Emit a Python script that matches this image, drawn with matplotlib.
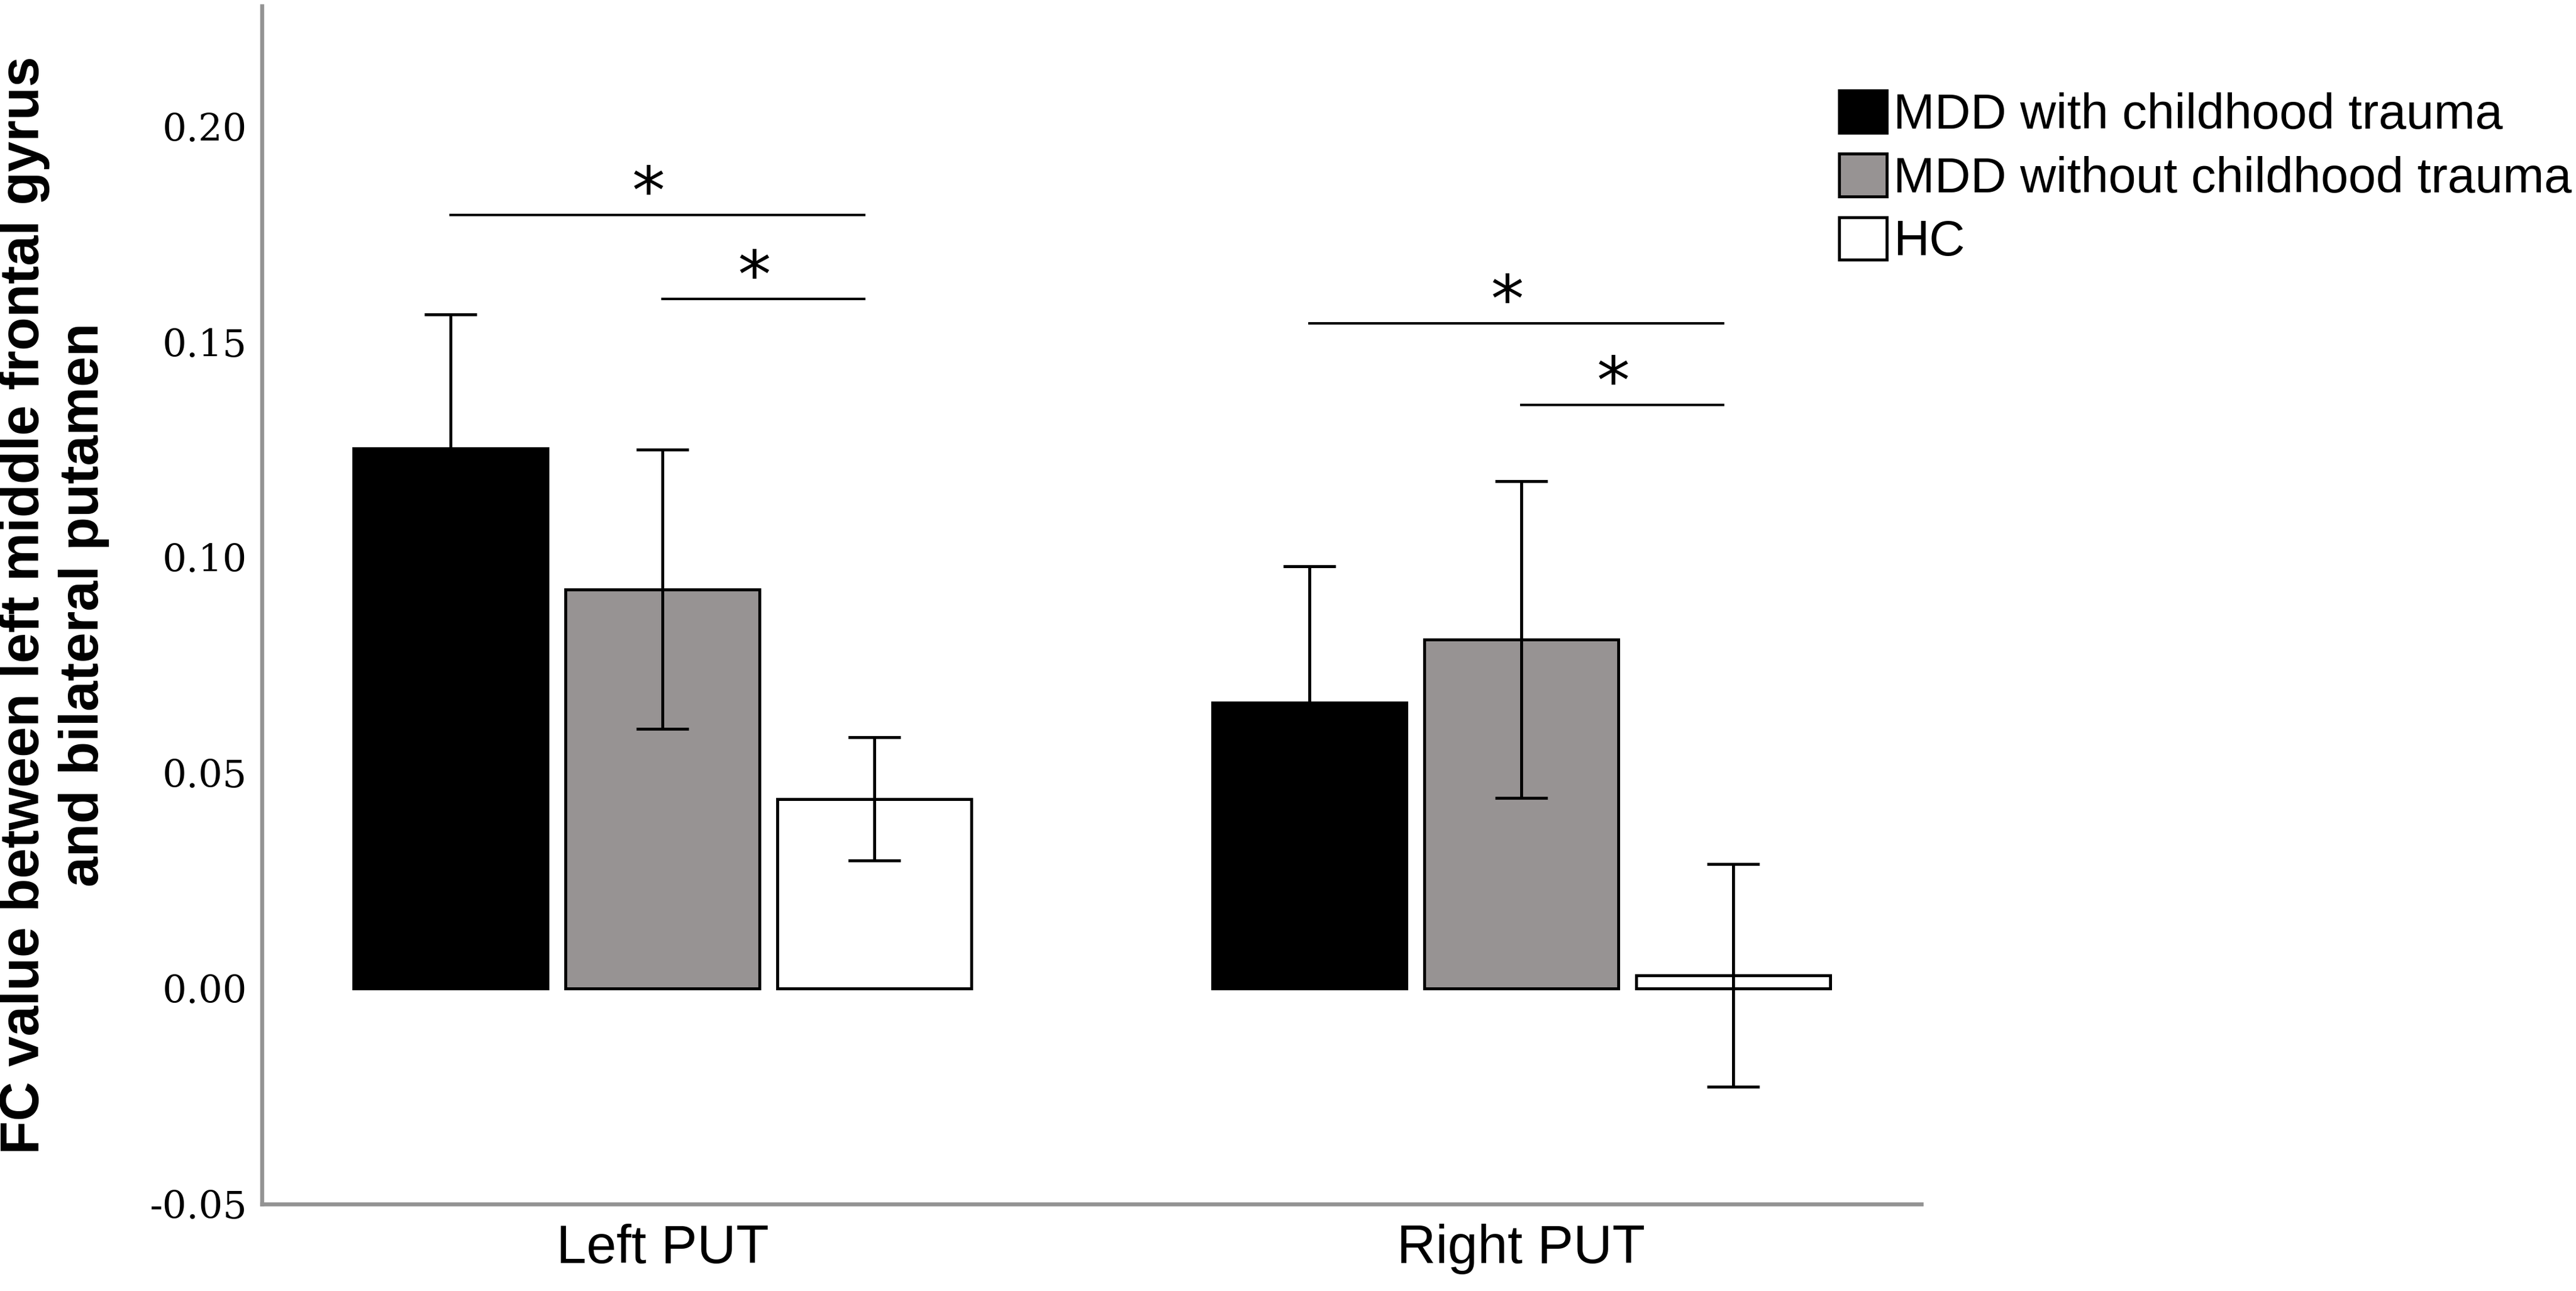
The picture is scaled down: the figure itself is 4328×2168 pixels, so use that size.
import numpy as np
import matplotlib
matplotlib.use("Agg")
import matplotlib.pyplot as plt

# regions of interest on the x axis
groups = ["Left PUT", "Right PUT"]
series = ["MDD with childhood trauma", "MDD without childhood trauma", "HC"]

# mean FC values per series (Left PUT, Right PUT)
mdd_ct = [0.1254, 0.0664]
mdd_nct = [0.0926, 0.0810]
hc = [0.0440, 0.0031]

# error bar half-lengths
err_ct = [0.0310, 0.0316]
err_nct = [0.0324, 0.0367]
err_hc = [0.0143, 0.0258]

# significance brackets: group, from series, to series, height
sig_group = [0, 0, 1, 1]
sig_from = [0, 1, 0, 1]
sig_to = [2, 2, 2, 2]
sig_y = [0.1795, 0.1600, 0.1543, 0.1354]

colors = ["#000000", "#979393", "#ffffff"]

fig = plt.figure(figsize=(10.82, 5.42), dpi=400)
ax = fig.add_axes([0.1017, 0.0673, 0.6441, 0.9281])

x = np.arange(len(groups))
offset = 0.2467
width = 0.226
means = [mdd_ct, mdd_nct, hc]
errs = [err_ct, err_nct, err_hc]

for i, (m, e, c, name) in enumerate(zip(means, errs, colors, series)):
    ax.bar(x + (i - 1) * offset, m, width, color=c, edgecolor="black",
           linewidth=0.9, label=name, zorder=2)
    ax.errorbar(x + (i - 1) * offset, m, yerr=e, fmt="none", ecolor="black",
                elinewidth=0.9, capsize=8, capthick=0.9, zorder=3)

for g, a, b, y in zip(sig_group, sig_from, sig_to, sig_y):
    x0 = g + (a - 1) * offset
    x1 = g + (b - 1) * offset - 0.012
    ax.plot([x0, x1], [y, y], color="black", linewidth=0.75, zorder=3)
    ax.text((x0 + x1) / 2 - 0.01, y + 0.0003, "*", ha="center", va="baseline",
            fontsize=20, family="DejaVu Sans")

ax.set_xlim(-0.4664, 1.4657)
ax.set_ylim(-0.05, 0.228)
ax.set_yticks([-0.05, 0.0, 0.05, 0.10, 0.15, 0.20])
ax.set_yticklabels(["-0.05", "0.00", "0.05", "0.10", "0.15", "0.20"],
                   family="DejaVu Serif", fontsize=11.5)
ax.set_xticks(x)
ax.set_xticklabels(groups, family="Liberation Sans", fontsize=16.3)
ax.tick_params(axis="y", length=0, pad=4.5)
ax.tick_params(axis="x", length=0, pad=6)

for s in ["top", "right"]:
    ax.spines[s].set_visible(False)
for s in ["left", "bottom"]:
    ax.spines[s].set_color("#939393")
    ax.spines[s].set_linewidth(1.2)

ax.set_ylabel("FC value between left middle frontal gyrus\nand bilateral putamen",
              family="Liberation Sans", fontweight="bold", fontsize=16.5)
ax.yaxis.set_label_coords(-0.092, 0.5)

leg = fig.legend(loc="upper left", bbox_to_anchor=(3090 / 4328, 1 - 152 / 2168),
                 frameon=False, prop={"family": "Liberation Sans", "size": 15},
                 handlelength=0.96, handleheight=0.94, handletextpad=0.13,
                 labelspacing=0.3, borderpad=0, borderaxespad=0)

fig.savefig("out.png", dpi=400, facecolor="white")
